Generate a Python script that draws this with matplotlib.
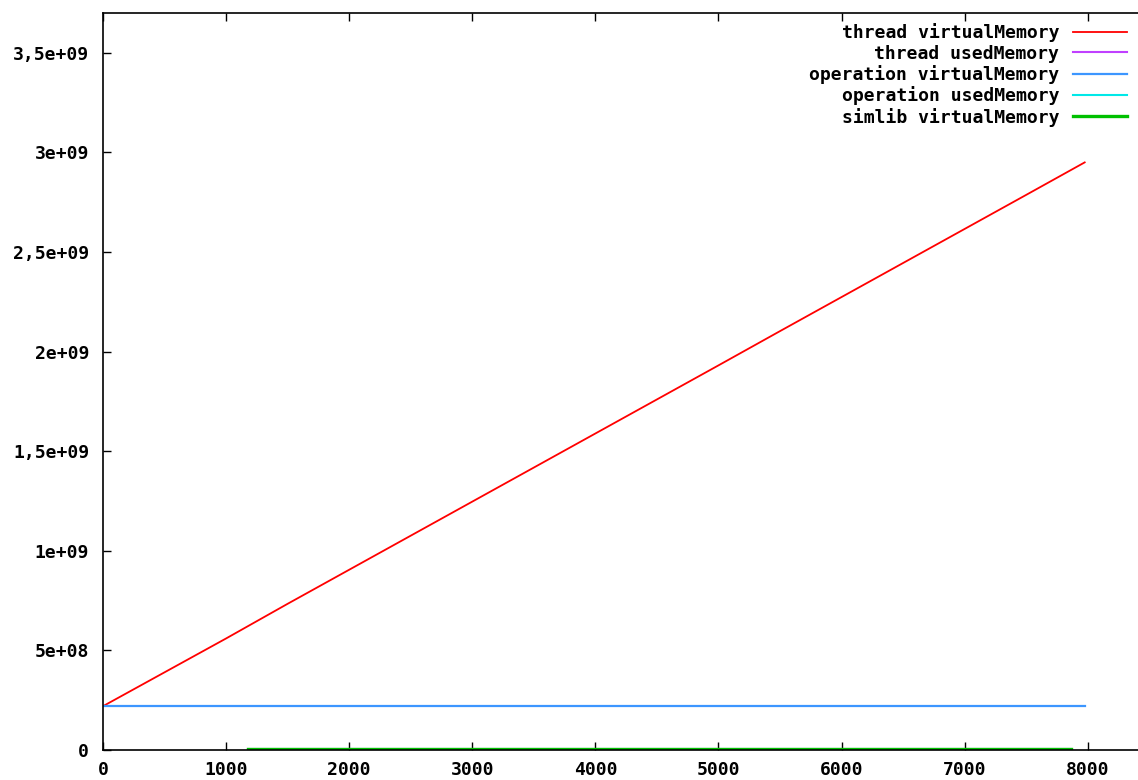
import matplotlib
matplotlib.use("Agg")
import matplotlib.pyplot as plt

# memory usage over simulation steps
steps = [0, 500, 1000, 1500, 2000, 2500, 3000, 3500, 4000, 4500,
         5000, 5500, 6000, 6500, 7000, 7500, 7975]
thread_virtual = [2.20e8, 3.90e8, 5.60e8, 7.34e8, 9.05e8, 1.076e9, 1.247e9, 1.418e9,
                  1.589e9, 1.760e9, 1.931e9, 2.103e9, 2.274e9, 2.445e9, 2.616e9,
                  2.787e9, 2.950e9]
operation_virtual = [2.20e8] * len(steps)

simlib_steps = [1178, 7863]
thread_used = [3.0e6, 3.0e6]
operation_used = [2.0e6, 2.0e6]
simlib_virtual = [5.0e6, 5.0e6]

ytick_vals = [0, 5e8, 1e9, 1.5e9, 2e9, 2.5e9, 3e9, 3.5e9]
ytick_labels = ["0", "5e+08", "1e+09", "1,5e+09", "2e+09", "2,5e+09", "3e+09", "3,5e+09"]
xtick_vals = [0, 1000, 2000, 3000, 4000, 5000, 6000, 7000, 8000]

plt.rcParams['font.family'] = ['DejaVu Sans Mono']
plt.rcParams['font.weight'] = 'bold'

fig = plt.figure(figsize=(11.38, 7.8), dpi=100)
ax = fig.add_axes([103/1138, 30/780, 1 - 103/1138, 737/780])

ax.plot(steps, thread_virtual, color='#ff0000', lw=1.3, label='thread virtualMemory')
ax.plot(simlib_steps, thread_used, color='#c040ff', lw=1.5, label='thread usedMemory')
ax.plot(steps, operation_virtual, color='#3c96ff', lw=1.6, label='operation virtualMemory')
ax.plot(simlib_steps, operation_used, color='#00e8e8', lw=1.5, label='operation usedMemory')
ax.plot(simlib_steps, simlib_virtual, color='#00c000', lw=2.4, label='simlib virtualMemory')

ax.set_xlim(0, 8408)
ax.set_ylim(0, 3.70e9)
ax.set_xticks(xtick_vals)
ax.set_xticklabels([str(v) for v in xtick_vals])
ax.set_yticks(ytick_vals)
ax.set_yticklabels(ytick_labels)
ax.tick_params(direction='in', length=6, width=1, labelsize=13)
ax.tick_params(axis='x', top=True, pad=8)
ax.tick_params(axis='y', pad=10)
ax.spines['right'].set_visible(False)
for s in ['left', 'bottom', 'top']:
    ax.spines[s].set_linewidth(1.2)

leg = ax.legend(loc='upper right', bbox_to_anchor=(0.9894, 0.986), frameon=False,
                markerfirst=False, fontsize=13, handlelength=3.0, handletextpad=0.75,
                labelspacing=0.13, borderpad=0, borderaxespad=0)

fig.savefig('out.png', dpi=100)
